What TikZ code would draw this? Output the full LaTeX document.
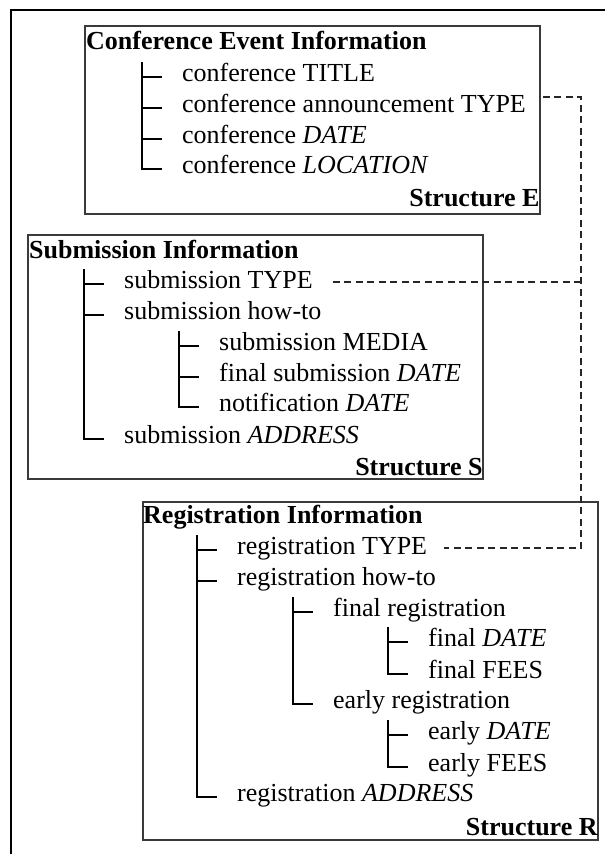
\documentclass[tikz,border=0pt]{standalone}
\usepackage{fontspec}
\setmainfont{Liberation Serif}
\usepackage{tikz}
\usetikzlibrary{positioning,calc}
\newcommand{\txtsize}{\fontsize{26}{31}\selectfont}
\definecolor{BoxLine}{RGB}{58,58,58}
\tikzset{
  frame/.style={line width=2pt,black},
  infobox/.style={draw=BoxLine,line width=1.8pt,inner sep=0pt,anchor=north west},
  item/.style={anchor=west,inner sep=0pt,text height=18pt,text depth=5pt,font=\txtsize},
  head/.style={item,font=\txtsize\bfseries},
  tag/.style={item,anchor=east,font=\txtsize\bfseries},
  branch/.style={line width=1.6pt,black},
  link/.style={line width=1.3pt,black!85,dash pattern=on 7pt off 4.5pt},
}

\begin{document}
\begin{tikzpicture}[x=1pt,y=-1pt,font=\txtsize]
  \useasboundingbox (0,0) rectangle (605,854);
  \draw[frame] (11,854) -- (11,10) -- (605,10);

  % structure E
  \node[infobox,minimum width=455pt,minimum height=188pt] (boxE) at (84,25) {};
  \node[head] (hE) at (86,43)  {Conference Event Information};
  \node[item] (e1) at (182,75)  {conference TITLE};
  \node[item] (e2) at (182,106) {conference announcement TYPE};
  \node[item] (e3) at (182,137) {conference \textit{DATE}};
  \node[item] (e4) at (182,167) {conference \textit{LOCATION}};
  \node[tag] (tE) at ([xshift=-1pt,yshift=15pt]boxE.south east) {Structure E};

  % structure S
  \node[infobox,minimum width=455pt,minimum height=244pt] (boxS) at (27,234) {};
  \node[head] (hS) at (29,252)  {Submission Information};
  \node[item] (s1) at (124,282) {submission TYPE};
  \node[item] (s2) at (124,313) {submission how-to};
  \node[item] (s3) at (219,344) {submission MEDIA};
  \node[item] (s4) at (219,375) {final submission \textit{DATE}};
  \node[item] (s5) at (219,405) {notification \textit{DATE}};
  \node[item] (s6) at (124,437) {submission \textit{ADDRESS}};
  \node[tag] (tS) at ([xshift=-1pt,yshift=11pt]boxS.south east) {Structure S};

  % structure R
  \node[infobox,minimum width=455pt,minimum height=338pt] (boxR) at (142,501) {};
  \node[head] (hR) at (143,517) {Registration Information};
  \node[item] (r1) at (237,548) {registration TYPE};
  \node[item] (r2) at (237,579) {registration how-to};
  \node[item] (r3) at (333,610) {final registration};
  \node[item] (r4) at (428,640) {final \textit{DATE}};
  \node[item] (r5) at (428,672) {final FEES};
  \node[item] (r6) at (333,702) {early registration};
  \node[item] (r7) at (428,733) {early \textit{DATE}};
  \node[item] (r8) at (428,765) {early FEES};
  \node[item] (r9) at (237,795) {registration \textit{ADDRESS}};
  \node[tag] (tR) at ([xshift=-1pt,yshift=12pt]boxR.south east) {Structure R};

  % tree lines
  \foreach \n in {e1,e2,e3,s1,s2,s3,s4,r1,r2,r3,r4,r7}
    \draw[branch] ([xshift=-40pt,yshift=-2pt]\n.west) -- ([xshift=-20pt,yshift=-2pt]\n.west);
  \draw[branch] ([xshift=-40pt,yshift=13pt]e1.west) |- ([xshift=-20pt,yshift=-2pt]e4.west);
  \draw[branch] ([xshift=-40pt,yshift=13pt]s1.west) |- ([xshift=-20pt,yshift=-2pt]s6.west);
  \draw[branch] ([xshift=-40pt,yshift=13pt]s3.west) |- ([xshift=-20pt,yshift=-2pt]s5.west);
  \draw[branch] ([xshift=-40pt,yshift=13pt]r1.west) |- ([xshift=-20pt,yshift=-2pt]r9.west);
  \draw[branch] ([xshift=-40pt,yshift=13pt]r3.west) |- ([xshift=-20pt,yshift=-2pt]r6.west);
  \draw[branch] ([xshift=-40pt,yshift=13pt]r4.west) |- ([xshift=-20pt,yshift=-2pt]r5.west);
  \draw[branch] ([xshift=-40pt,yshift=13pt]r7.west) |- ([xshift=-20pt,yshift=-2pt]r8.west);

  % TYPE links
  \coordinate (kE) at (581,97);
  \coordinate (kR) at (581,548);
  \draw[link] ([xshift=2pt]boxE.east |- kE) -- (kE) -- (kR) -- ([xshift=17pt]r1.east);
  \draw[link] ([xshift=20pt]s1.east) -- (s1.east -| kE);
\end{tikzpicture}
\end{document}
